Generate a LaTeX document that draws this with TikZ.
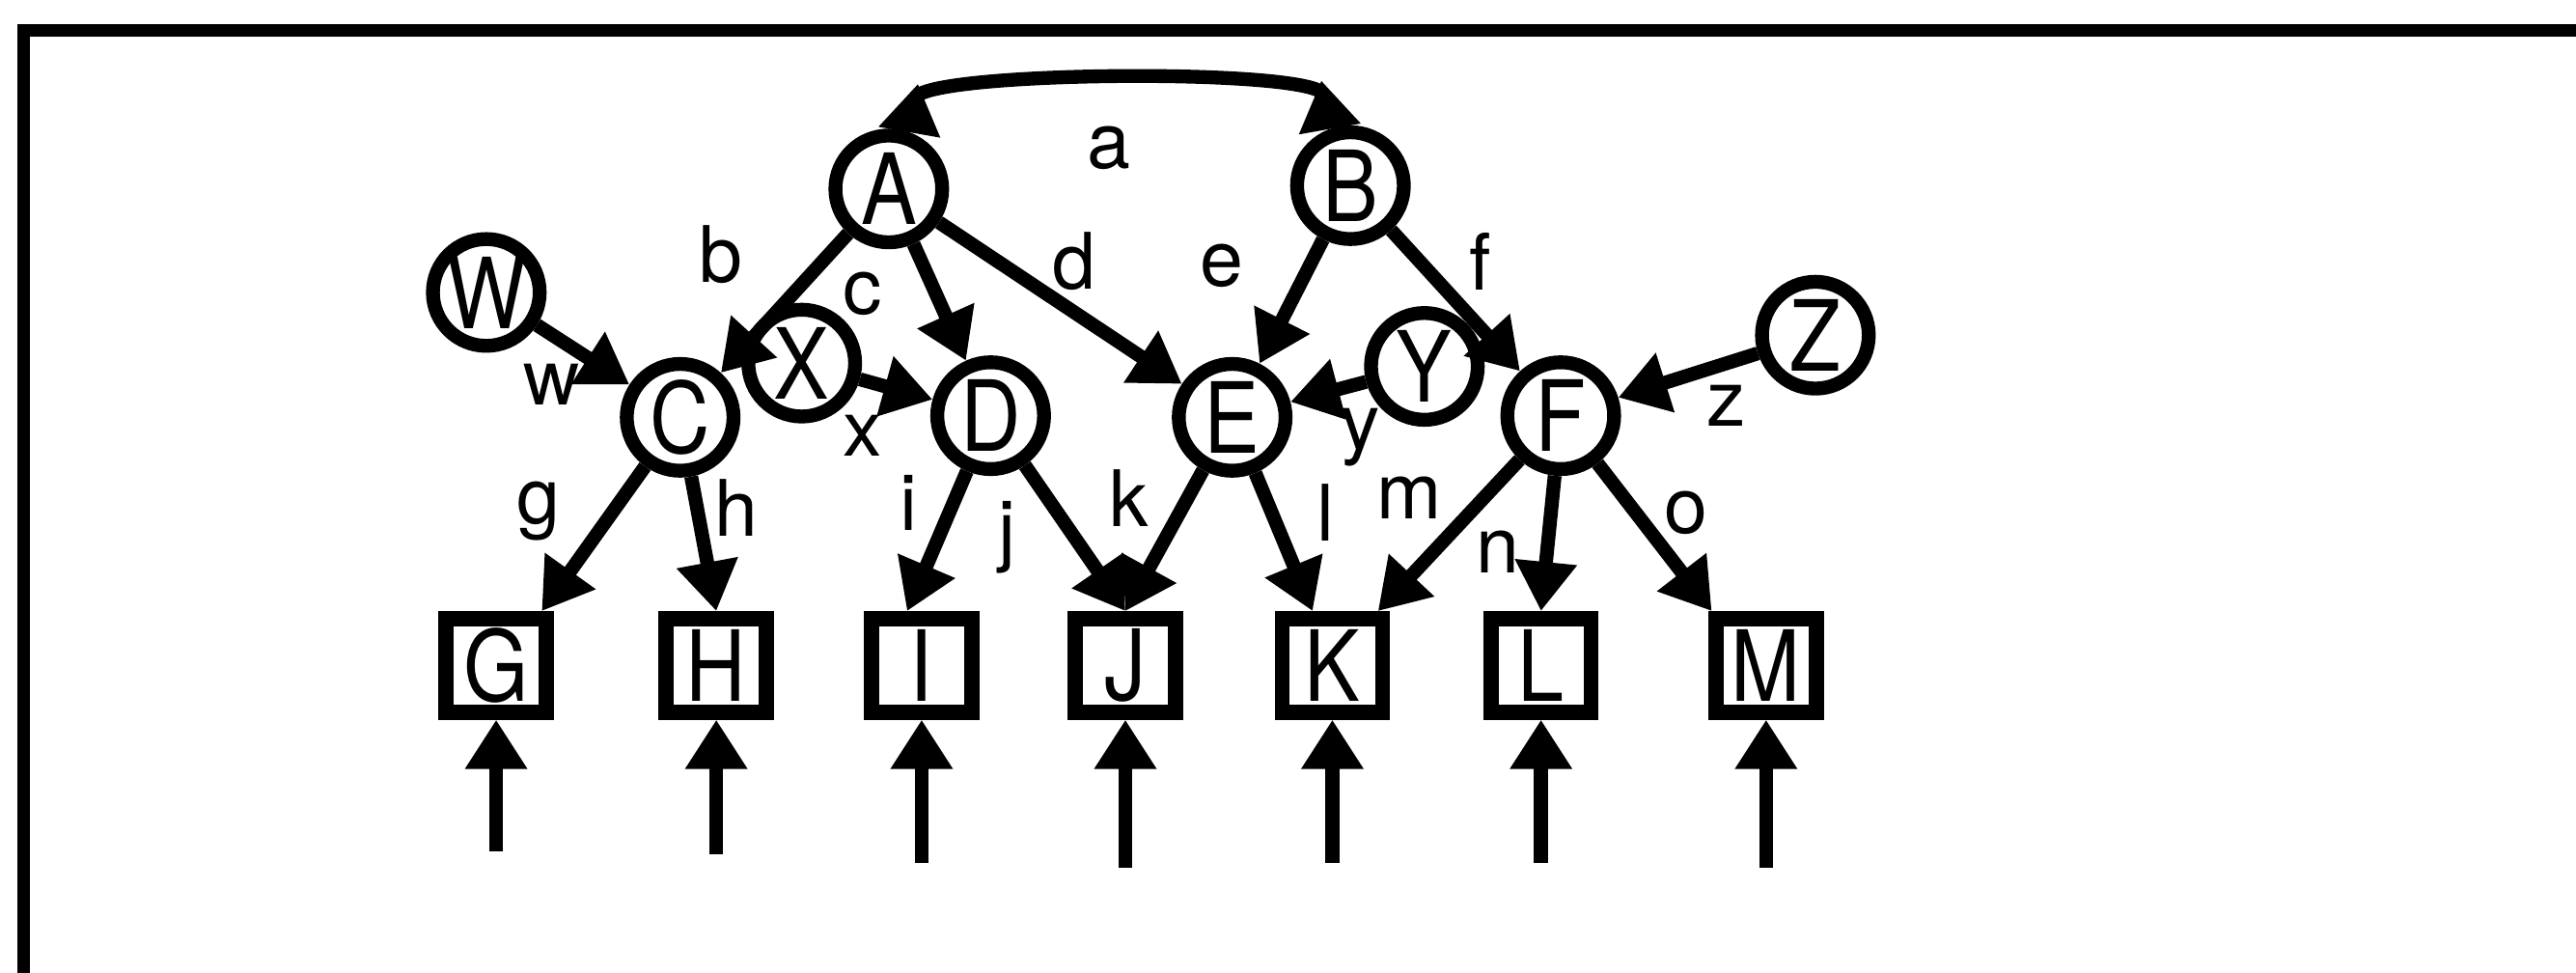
\documentclass[tikz,border=0pt]{standalone}
\usepackage{fontspec}
\setmainfont{TeX Gyre Heros}
\newfontfamily\nodefont[FakeStretch=0.85]{TeX Gyre Heros}
\usetikzlibrary{arrows.meta}

\begin{document}
\begin{tikzpicture}[
		var/.style={circle, draw=black, line width=2.4pt, minimum size=0.65cm, inner sep=0pt, font=\nodefont\fontsize{17}{17}\selectfont},
		obs/.style={rectangle, draw=black, line width=2.6pt, minimum width=0.61cm, minimum height=0.57cm, inner sep=0pt, font=\nodefont\fontsize{17}{17}\selectfont},
		lbl/.style={inner sep=0pt, font=\fontsize{13.5}{13.5}\selectfont},
		arrow/.style={line width=2.4pt, ->, >={Triangle[length=0.3cm, width=0.36cm]}}
		]
		\useasboundingbox (0,0) rectangle (15.68,5.92);
		\draw [line width=0.08cm] (0.145,0) -- (0.145,5.735) -- (15.68,5.735);
		
		% hidden causes and their children
		\node (A) at (5.41, 4.77) [var] {A};
		\node (B) at (8.22, 4.79) [var] {B};
		\node (W) at (2.96, 4.14) [var] {W};
		\node (X) at (4.88, 3.71) [var] {X};
		\node (Y) at (8.67, 3.69) [var] {Y};
		\node (Z) at (11.05, 3.88) [var] {Z};
		\node (C) at (4.14, 3.38) [var] {C};
		\node (D) at (6.03, 3.39) [var] {D};
		\node (E) at (7.50, 3.38) [var] {E};
		\node (F) at (9.50, 3.39) [var] {F};
		
		% observed boxes
		\node (G) at (3.02, 1.87) [obs] {G};
		\node (H) at (4.36, 1.87) [obs] {H};
		\node (I) at (5.61, 1.87) [obs] {I};
		\node (J) at (6.85, 1.87) [obs] {J};
		\node (K) at (8.11, 1.87) [obs] {K};
		\node (L) at (9.38, 1.87) [obs] {L};
		\node (M) at (10.75, 1.87) [obs] {M};
		
		\draw [line width=2.4pt, {Triangle[reversed, length=0.3cm, width=0.36cm]}-{Triangle[reversed, length=0.3cm, width=0.36cm]}] (A.70) .. controls +(80:0.38) and +(100:0.38) .. (B.110);
		\draw [arrow] (A) -- (C);
		\draw [arrow] (A) -- (D);
		\draw [arrow] (A) -- (E);
		\draw [arrow] (B) -- (E);
		\draw [arrow] (B) -- (F);
		\draw [arrow] (W) -- (C);
		\draw [arrow] (X) -- (D);
		\draw [arrow] (Y) -- (E);
		\draw [arrow] (Z) -- (F);
		\draw [arrow] (C) -- (G.50);
		\draw [arrow] (C) -- (H.north);
		\draw [arrow] (D) -- (I.105);
		\draw [arrow] (D) -- (J.north);
		\draw [arrow] (E) -- (J.north);
		\draw [arrow] (E) -- (K.110);
		\draw [arrow] (F) -- (K.50);
		\draw [arrow] (F) -- (L.north);
		\draw [arrow] (F) -- (M.135);
		
		\foreach \b/\d in {G/0.80, H/0.82, I/0.87, J/0.90, K/0.87, L/0.87, M/0.90} {
			\coordinate (in\b) at ([yshift=-\d cm]\b.south);
			\draw [arrow] (in\b) -- (\b);
		}
		
		% edge labels
		\node (la) at (6.75, 5.02) [lbl] {a};
		\node (lb) at (4.39, 4.37) [lbl] {b};
		\node (lc) at (5.25, 4.13) [lbl] {c};
		\node (ld) at (6.54, 4.33) [lbl] {d};
		\node (le) at (7.44, 4.30) [lbl] {e};
		\node (lf) at (9.01, 4.33) [lbl] {f};
		\node (lw) at (3.36, 3.58) [lbl] {w};
		\node (lx) at (5.25, 3.27) [lbl] {x};
		\node (ly) at (8.28, 3.26) [lbl] {y};
		\node (lz) at (10.51, 3.45) [lbl] {z};
		\node (lg) at (3.28, 2.81) [lbl] {g};
		\node (lh) at (4.48, 2.83) [lbl] {h};
		\node (li) at (5.53, 2.86) [lbl] {i};
		\node (lj) at (6.13, 2.65) [lbl] {j};
		\node (lk) at (6.87, 2.89) [lbl] {k};
		\node (ll) at (8.07, 2.80) [lbl] {l};
		\node (lm) at (8.58, 2.89) [lbl] {m};
		\node (ln) at (9.12, 2.56) [lbl] {n};
		\node (lo) at (10.26, 2.80) [lbl] {o};
	\end{tikzpicture}
\end{document}
